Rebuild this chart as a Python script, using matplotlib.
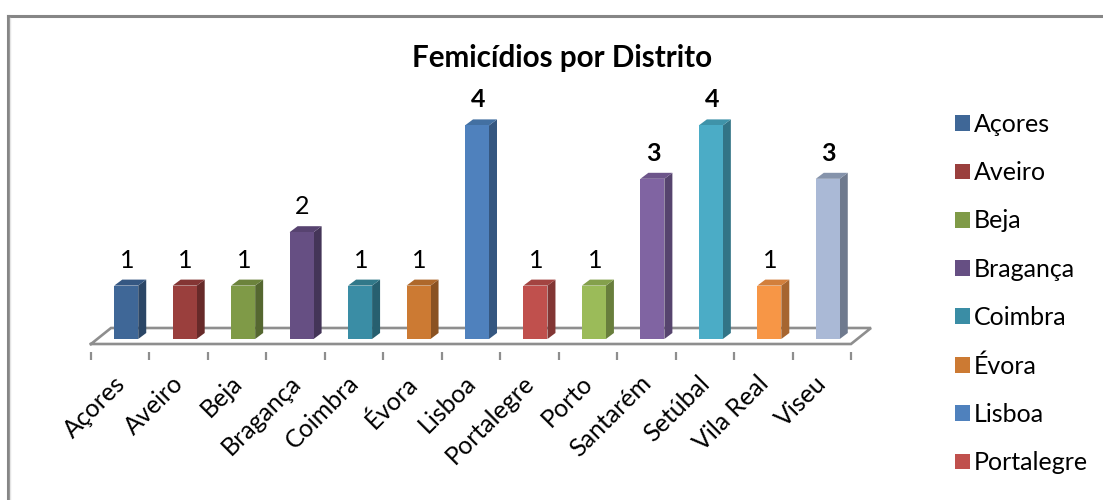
import matplotlib
matplotlib.use("Agg")
import matplotlib.pyplot as plt
from matplotlib.lines import Line2D
from matplotlib.patches import Polygon

plt.rcParams['font.family'] = ['Lato', 'DejaVu Sans']

distritos = ["Açores", "Aveiro", "Beja", "Bragança", "Coimbra", "Évora", "Lisboa",
             "Portalegre", "Porto", "Santarém", "Setúbal", "Vila Real", "Viseu"]
casos = [1, 1, 1, 2, 1, 1, 4, 1, 1, 3, 4, 1, 3]
bold_labels = [6, 9, 10, 12]
cores = ["#3F6797", "#9A3F3D", "#7F9A47", "#664F83", "#3A8DA5", "#CC7A33", "#4F81BD",
         "#C0504D", "#9BBB59", "#8064A2", "#4BACC6", "#F79646", "#AAB9D6"]
lados = ["#2B4666", "#672A29", "#556730", "#443558", "#275F6F", "#8A5222", "#355780",
         "#823634", "#687E3C", "#56446E", "#327486", "#A66530", "#6F7A8E"]
topos = ["#355782", "#843534", "#6C833C", "#574370", "#317889", "#AE682B", "#4370A2",
         "#A34441", "#84A04C", "#6D558A", "#3F93A9", "#D27F3C", "#8593AB"]

W, H = 1103, 500
fig = plt.figure(figsize=(W / 100, H / 100), dpi=100)
fig.patch.set_facecolor("white")

# axes covers the floor width, y zero sits at the bottom of the bars
ax = fig.add_axes([91 / W, 1 - 352 / H, 760 / W, 292 / H])
unit_x = 760 / 13
unit_y = 53.4
ax.set_xlim(-0.5, 12.5)
ax.set_ylim(-13 / unit_y, 279 / unit_y)
for s in ax.spines.values():
    s.set_visible(False)
ax.patch.set_alpha(0)

bar_w = 24 / unit_x
shift = 6 / unit_x
dx = 8 / unit_x
dy = 6 / unit_y
x = [i + shift for i in range(len(casos))]

# floor
floor_c = "#8E8E8E"
fx = 20 / unit_x
fy0, fy1 = -5 / unit_y, 11 / unit_y
ax.plot([-0.5, -0.5 + fx, 12.5 + fx, 12.5, -0.5], [fy0, fy1, fy1, fy0, fy0],
        color=floor_c, lw=1.9, clip_on=False, solid_joinstyle="miter", zorder=1)

for i, v in enumerate(casos):
    l, r = x[i] - bar_w / 2, x[i] + bar_w / 2
    ax.add_patch(Polygon([(r, 0), (r + dx, dy), (r + dx, v + dy), (r, v)], fc=lados[i], ec="none", zorder=2))
    ax.add_patch(Polygon([(l, v), (l + dx, v + dy), (r + dx, v + dy), (r, v)], fc=topos[i], ec="none", zorder=2))
bars = ax.bar(x, casos, width=bar_w, color=cores, edgecolor="none", zorder=3)

# value labels
for i, v in enumerate(casos):
    ax.annotate(str(v), (x[i], v), xytext=(1, 14), textcoords="offset pixels", ha="center", va="bottom",
                fontsize=18, color="black", fontweight="bold" if i in bold_labels else "normal",
                annotation_clip=False)

# ticks between the categories, labels under the bars
ax.set_xticks([i - 0.5 for i in range(14)], minor=True)
ax.set_xticks([i - 7 / unit_x for i in range(13)])
ax.set_xticklabels(distritos, rotation=45, ha="right", va="top", rotation_mode="anchor", fontsize=18)
ax.tick_params(axis="x", which="major", length=0, pad=14)
ax.tick_params(axis="x", which="minor", length=5.5, width=1.6, color=floor_c)
ax.set_yticks([])

fig.text(562 / W, 1 - 58 / H, "Femicídios por Distrito", ha="center", va="center",
         fontsize=21.3, fontweight="bold", color="black")

# the legend runs out of room after eight entries
leg = ax.legend(bars[:8], distritos[:8], loc="upper left", bbox_to_anchor=(955 / W, 1 - 113 / H),
                bbox_transform=fig.transFigure, frameon=False, fontsize=18, handlelength=0.6,
                handleheight=0.6, handletextpad=0.17, labelspacing=1.01, borderpad=0, borderaxespad=0)

# outer frame, only top and left fall inside the picture
fig.add_artist(Line2D([7.5 / W, 7.5 / W], [0, 1 - 16 / H], color="#868686", lw=2.2, solid_capstyle="projecting"))
fig.add_artist(Line2D([7.5 / W, 1], [1 - 16 / H, 1 - 16 / H], color="#868686", lw=2.2, solid_capstyle="projecting"))
fig.add_artist(Line2D([10 / W, 10 / W], [0, 1 - 18 / H], color="#E4E4E4", lw=1))

fig.savefig("out.png", dpi=100)
